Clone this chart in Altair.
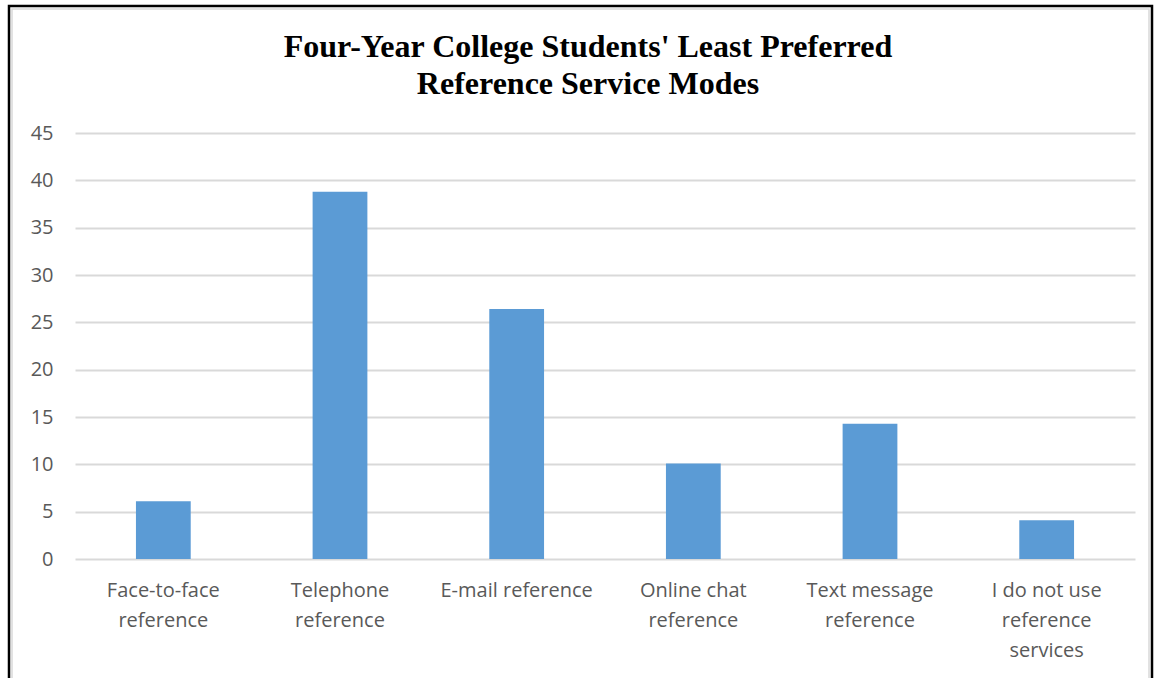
import altair as alt
import pandas as pd

categories = [
    "Face-to-face\nreference",
    "Telephone\nreference",
    "E-mail reference",
    "Online chat\nreference",
    "Text message\nreference",
    "I do not use\nreference\nservices",
]
values = [6.1, 38.8, 26.4, 10.1, 14.3, 4.1]
y_ticks = [0, 5, 10, 15, 20, 25, 30, 35, 40, 45]
title_lines = ["Four-Year College Students' Least Preferred", "Reference Service Modes"]

df = pd.DataFrame({"mode": categories, "value": values})

W, H = 1060, 426

bars = alt.Chart(df).mark_bar(color="#5B9BD5").encode(
    x=alt.X(
        "mode:N",
        sort=categories,
        title=None,
        scale=alt.Scale(paddingInner=0.69, paddingOuter=0.345),
        axis=alt.Axis(
            labelExpr="split(datum.label, '\\n')",
            labelAngle=0,
            labelFont="Open Sans",
            labelFontSize=20,
            labelColor="#595959",
            labelLineHeight=30,
            labelPadding=21,
            ticks=False,
            domain=False,
            grid=False,
        ),
    ),
    y=alt.Y(
        "value:Q",
        title=None,
        scale=alt.Scale(domain=[0, 45], nice=False),
        axis=alt.Axis(
            values=y_ticks,
            labelFont="Open Sans",
            labelFontSize=20,
            labelColor="#595959",
            labelPadding=22,
            ticks=False,
            domain=False,
            gridColor="#D9D9D9",
            gridWidth=2,
        ),
    ),
)

title = alt.Chart(pd.DataFrame({"t": ["\n".join(title_lines)]})).mark_text(
    font="Liberation Serif",
    fontSize=32,
    fontWeight="bold",
    color="#000000",
    align="center",
    baseline="alphabetic",
    lineBreak="\n",
    lineHeight=37,
).encode(
    text="t:N",
    x=alt.value(513),
    y=alt.value(-76),
)

inner = alt.Chart(pd.DataFrame({"a": [0]})).mark_rect(
    fill=None, stroke="#D9D9D9", strokeWidth=1.5
).encode(
    x=alt.value(-63), x2=alt.value(1074), y=alt.value(-124), y2=alt.value(700)
)

border = alt.Chart(pd.DataFrame({"a": [0]})).mark_rect(
    fill=None, stroke="black", strokeWidth=2.5
).encode(
    x=alt.value(-66), x2=alt.value(1077), y=alt.value(-127), y2=alt.value(700)
)

chart = alt.layer(bars, title, inner, border).properties(
    width=W,
    height=H,
    autosize=alt.AutoSizeParams(type="none"),
    padding={"left": 75, "top": 133, "right": 20, "bottom": 119},
).configure(background="white").configure_view(stroke=None)

chart.save("out.html", embed_options={"renderer": "svg", "actions": False})
